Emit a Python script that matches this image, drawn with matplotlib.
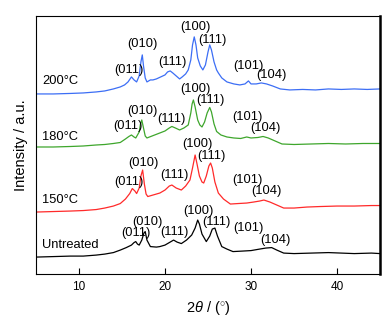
import matplotlib
matplotlib.use('Agg')
import matplotlib.pyplot as plt

plt.rcParams['font.family'] = ['Liberation Sans', 'DejaVu Sans']
plt.rcParams['mathtext.fontset'] = 'custom'
plt.rcParams['mathtext.rm'] = 'Liberation Sans'
plt.rcParams['mathtext.it'] = 'Liberation Sans:italic'

# XRD patterns, offset stacked (2theta in degrees, intensity in a.u.)
tt_200 = [5.0, 7, 9, 10.5, 12, 13, 14, 14.8, 15.3, 15.7, 16.1, 16.4, 16.7, 17.0, 17.2, 17.36,
          17.5, 17.7, 17.9, 18.3, 18.6, 19.0, 19.5, 20.0, 20.3, 20.6, 20.9, 21.3, 21.7, 22.0,
          22.4, 22.7, 23.0, 23.2, 23.4, 23.6, 23.8, 24.1, 24.4, 24.7, 25.0, 25.2, 25.4, 25.7,
          26.0, 26.2, 26.6, 27.2, 28.0, 28.7, 29.3, 29.7, 30.0, 30.6, 31.2, 31.8, 32.5, 33.4,
          34.5, 36, 37.5, 39, 40.5, 42, 43.5, 45]
i_200 = [180, 180, 180.5, 181, 182, 183, 185, 187, 189, 192, 197, 194, 192, 198, 212, 219,
         208, 196, 192, 194, 194, 195, 197, 199, 202, 203, 201, 198, 195, 197,
         200, 204, 214, 229, 237, 229, 216, 208, 204, 209, 222, 229, 224, 212,
         204, 201, 196, 192, 190, 189, 190, 193, 190, 190, 191, 190, 188, 185,
         184, 184.5, 184, 185, 184.5, 185, 184.5, 185]

tt_180 = [5, 7, 9, 10.5, 12, 13, 14, 14.8, 15.4, 15.8, 16.1, 16.4, 16.6, 17.0, 17.15, 17.3,
          17.5, 17.7, 17.9, 18.5, 19.4, 20.0, 20.5, 20.8, 21.2, 21.7, 22.2, 22.7, 23.0, 23.15,
          23.3, 23.5, 23.8, 24.05, 24.3, 24.6, 24.9, 25.2, 25.4, 25.7, 26.0, 26.5, 27.2, 28.0,
          28.8, 29.5, 30.0, 30.8, 31.4, 32.0, 32.8, 33.6, 35, 37, 39, 41, 43, 45]
i_180 = [127, 127, 127.5, 128, 129, 129.5, 130.5, 131.5, 135, 137.5, 139, 137, 136, 142, 150, 154,
         146, 138, 136, 138, 141, 143, 146, 147.5, 146, 144, 146, 149, 161, 170,
         174, 167, 154, 149, 147, 152, 161, 166.5, 162, 150, 142.5, 139, 137, 136,
         135.5, 137, 136, 136.5, 137.5, 136, 133, 130, 129.5, 130, 130.5, 130, 130.5, 130.5]

tt_150 = [5, 7, 9, 10.5, 12, 13, 14, 14.8, 15.4, 15.9, 16.2, 16.5, 16.7, 17.0, 17.2, 17.4,
          17.6, 17.8, 18.0, 18.6, 19.4, 20.0, 20.5, 20.8, 21.3, 21.9, 22.4, 22.9, 23.2, 23.5,
          23.7, 24.0, 24.3, 24.5, 24.8, 25.1, 25.3, 25.5, 25.8, 26.2, 26.8, 27.6, 28.5, 29.5,
          30.3, 31.0, 31.5, 32.2, 33.0, 33.8, 35, 36.5, 38, 40, 42, 44, 45]
i_150 = [62, 62.5, 63, 63.5, 64.5, 66, 68, 70.5, 75, 80.5, 85.5, 83, 80.5, 86, 98, 104,
         90, 80, 77.5, 79, 81, 84, 88, 89, 86, 84, 88, 94, 106, 119,
         111, 98, 92, 91, 98, 108, 111, 106, 92, 81, 75, 70, 70.5, 71,
         72, 73, 74, 72, 69, 66, 66, 67, 67.5, 68, 68, 68.5, 68.5]

tt_raw = [5, 7, 9, 10.5, 12, 13, 14, 14.8, 15.5, 16.1, 16.4, 16.6, 16.8, 17.0, 17.3, 17.55,
          17.7, 17.9, 18.3, 19.0, 19.4, 20.0, 20.6, 21.0, 21.4, 21.9, 22.5, 23.1, 23.5, 23.8,
          24.0, 24.3, 24.8, 25.2, 25.5, 25.8, 26.1, 26.6, 27.2, 27.9, 29, 30, 31, 31.7,
          32.4, 33, 33.8, 35, 37, 39, 40.5, 42, 44, 45]
i_raw = [17, 17.5, 18, 18, 19, 20, 21.5, 24, 26.5, 29, 31.5, 32.5, 30, 29, 34, 41,
         42.5, 34, 27.5, 27, 27.5, 29, 32, 34, 32, 30.5, 34, 39, 46, 54,
         50, 40, 32.5, 38, 45, 46, 38, 27.5, 25, 22.5, 23, 23.5, 25, 26,
         26.5, 24, 21, 20.5, 21, 21.5, 21, 20.5, 21, 20.5]

sample_names = ['200°C', '180°C', '150°C', 'Untreated']
line_colors = ['#3c6ef5', '#3ea62c', '#ff2a2a', '#000000']
peak_names = ['(011)', '(010)', '(111)', '(100)', '(111)', '(101)', '(104)']

# label anchors per pattern: sample name, then one per reflection
name_pos = [(5.7, 193), (5.7, 137), (5.7, 74), (5.7, 29)]
peak_pos = [
    [(15.81, 204), (17.33, 230), (20.81, 212), (23.49, 247), (25.47, 234), (29.65, 208), (32.33, 199)],
    [(15.70, 148), (17.33, 163), (20.70, 155), (23.49, 185), (25.23, 174), (29.53, 157), (31.63, 146)],
    [(15.81, 92.5), (17.44, 111), (21.05, 99), (23.72, 130), (25.35, 118), (29.53, 94), (31.74, 83)],
    [(16.63, 41), (17.91, 52), (21.05, 42), (23.84, 63), (25.93, 52), (29.65, 46), (32.79, 34)],
]

fig = plt.figure(figsize=(3.91, 3.24), dpi=100)
ax = fig.add_axes([0.092, 0.154, 0.88, 0.797])

patterns = [(tt_200, i_200), (tt_180, i_180), (tt_150, i_150), (tt_raw, i_raw)]
for k, (tt, inten) in enumerate(patterns):
    ax.plot(tt, inten, color=line_colors[k], lw=0.9)
    ax.text(name_pos[k][0], name_pos[k][1], sample_names[k], fontsize=9.3,
            ha='left', va='center')
    for lab, (px, py) in zip(peak_names, peak_pos[k]):
        ax.text(px, py, lab, fontsize=9.3, ha='center', va='center')

ax.set_xlim(5, 45)
ax.set_ylim(0, 258)
ax.set_xticks([10, 20, 30, 40])
ax.set_yticks([])
ax.tick_params(axis='x', direction='in', length=4, width=0.8, labelsize=8.5, pad=5)
for side in ['left', 'top', 'bottom']:
    ax.spines[side].set_linewidth(0.8)
ax.spines['right'].set_linewidth(1.8)

ax.set_xlabel(r'2$\theta$ / ($^{\circ}$)', fontsize=10.5, labelpad=4)
ax.set_ylabel('Intensity / a.u.', fontsize=10.5, labelpad=6)

fig.savefig('out.png', dpi=100)
